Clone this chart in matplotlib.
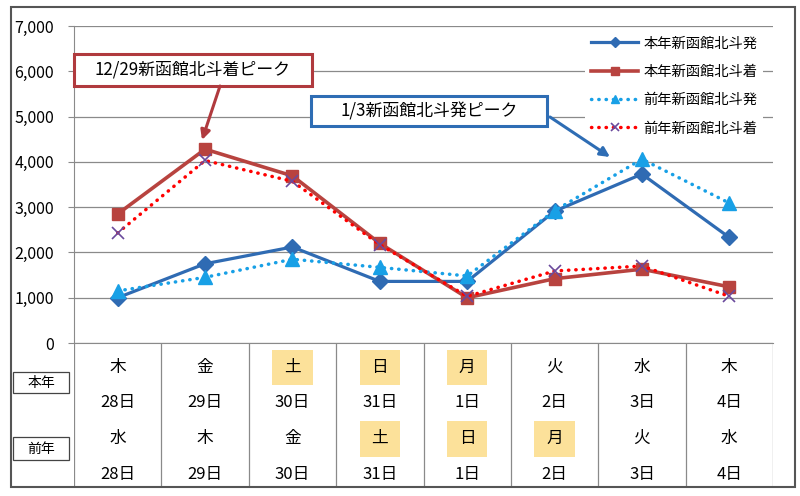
import matplotlib
matplotlib.use('Agg')
import matplotlib.pyplot as plt
from matplotlib.patches import Rectangle, FancyArrowPatch
from matplotlib.ticker import FuncFormatter

plt.rcParams['font.family'] = ['Noto Sans CJK JP', 'DejaVu Sans']

# 曜日・日付
days_this = ['木', '金', '土', '日', '月', '火', '水', '木']
days_last = ['水', '木', '金', '土', '日', '月', '火', '水']
dates = ['28日', '29日', '30日', '31日', '1日', '2日', '3日', '4日']
holiday_this = [False, False, True, True, True, False, False, False]
holiday_last = [False, False, False, True, True, True, False, False]

# 利用者数
dep_this = [1000, 1750, 2120, 1360, 1360, 2910, 3730, 2330]
arr_this = [2850, 4280, 3690, 2200, 1000, 1420, 1630, 1240]
dep_last = [1150, 1450, 1850, 1670, 1480, 2920, 4060, 3090]
arr_last = [2430, 4030, 3570, 2170, 1030, 1590, 1700, 1030]
labels = ['本年新函館北斗発', '本年新函館北斗着', '前年新函館北斗発', '前年新函館北斗着']

W, H = 800, 496


def fx(x):
    return x / W


def fy(y):
    return 1 - y / H


fig = plt.figure(figsize=(8, 4.96), dpi=100)
ax = fig.add_axes([fx(74), fy(343), fx(773) - fx(74), fy(26) - fy(343)])
tab = fig.add_axes([fx(74), fy(487), fx(773) - fx(74), fy(343) - fy(487)])

x = list(range(len(dates)))
dots = (0, (0.1, 2))
grid_c = '#8a8a8a'

ax.plot(x, dep_this, color='#2F6BB3', lw=2.3, marker='D', ms=8, label=labels[0])
ax.plot(x, arr_this, color='#B8433F', lw=2.6, marker='s', ms=9, label=labels[1])
ax.plot(x, dep_last, color='#18A0E6', lw=2.5, ls=dots, dash_capstyle='round',
        marker='^', ms=10, label=labels[2])
ax.plot(x, arr_last, color='#FF0000', lw=2.5, ls=dots, dash_capstyle='round',
        marker='x', ms=9, mec='#6A4A9C', mew=1.2, label=labels[3])

ax.set_xlim(-0.5, 7.5)
ax.set_ylim(0, 7000)
ax.set_yticks(range(0, 7001, 1000))
ax.yaxis.set_major_formatter(FuncFormatter(lambda v, p: f'{int(v):,}'))
ax.set_xticks([])
ax.grid(axis='y', color=grid_c, lw=0.9)
ax.set_axisbelow(True)
for s in ['top', 'right']:
    ax.spines[s].set_visible(False)
for s in ['left', 'bottom']:
    ax.spines[s].set_color(grid_c)
ax.tick_params(axis='y', length=4.5, color=grid_c, pad=10, labelsize=11.5)

ax.legend(loc='upper right', bbox_to_anchor=(0.986, 0.985), frameon=True,
          fancybox=False, facecolor='white', edgecolor='none', framealpha=1,
          fontsize=10.3, labelspacing=1.0, handlelength=3.35, handletextpad=0.35,
          borderaxespad=0, borderpad=0.4, markerscale=0.6)

# 表
tab.set_xlim(-0.5, 7.5)
tab.set_ylim(0, 1)
tab.axis('off')
for i in range(len(dates) + 1):
    tab.plot([i - 0.5, i - 0.5], [0, 1], color=grid_c, lw=0.9)
rows = [0.83, 0.585, 0.335, 0.09]
hl_c = '#FCE19A'
for i in x:
    if holiday_this[i]:
        tab.add_patch(Rectangle((i - 0.23, rows[0] - 0.125), 0.46, 0.245, fc=hl_c, ec='none'))
    if holiday_last[i]:
        tab.add_patch(Rectangle((i - 0.23, rows[2] - 0.125), 0.46, 0.245, fc=hl_c, ec='none'))
    tab.text(i, rows[0], days_this[i], ha='center', va='center', fontsize=12)
    tab.text(i, rows[1], dates[i], ha='center', va='center', fontsize=12)
    tab.text(i, rows[2], days_last[i], ha='center', va='center', fontsize=12)
    tab.text(i, rows[3], dates[i], ha='center', va='center', fontsize=12)

# 本年・前年ラベル
for name, y0, y1 in [('本年', 372, 393), ('前年', 437, 460)]:
    fig.add_artist(Rectangle((fx(13), fy(y1)), fx(69) - fx(13), fy(y0) - fy(y1),
                             transform=fig.transFigure, fc='white', ec='#444444', lw=0.9))
    fig.text(fx(41), fy((y0 + y1) / 2), name, ha='center', va='center', fontsize=10)

# 吹き出し
red_c = '#B03A3E'
blue_c = '#2E6DB4'
fig.add_artist(Rectangle((fx(74), fy(86)), fx(312) - fx(74), fy(54) - fy(86),
                         transform=fig.transFigure, fc='white', ec=red_c, lw=2.2, zorder=5))
fig.text(fx(193), fy(70), '12/29新函館北斗着ピーク', ha='center', va='center',
         fontsize=12.2, zorder=6)
fig.add_artist(FancyArrowPatch((fx(220), fy(86)), (fx(202), fy(140)),
                               transform=fig.transFigure, arrowstyle='-|>',
                               mutation_scale=14, lw=2.2, color=red_c,
                               shrinkA=0, shrinkB=0, zorder=5))

fig.add_artist(Rectangle((fx(311), fy(126)), fx(547) - fx(311), fy(96) - fy(126),
                         transform=fig.transFigure, fc='white', ec=blue_c, lw=2.2, zorder=5))
fig.text(fx(429), fy(111), '1/3新函館北斗発ピーク', ha='center', va='center',
         fontsize=12.2, zorder=6)
fig.add_artist(FancyArrowPatch((fx(550), fy(117)), (fx(610), fy(157)),
                               transform=fig.transFigure, arrowstyle='-|>',
                               mutation_scale=14, lw=2.2, color=blue_c,
                               shrinkA=0, shrinkB=0, zorder=5))

# 外枠
fig.add_artist(Rectangle((fx(11), fy(487)), fx(795) - fx(11), fy(7) - fy(487),
                         transform=fig.transFigure, fc='none', ec='#555555', lw=1.5, zorder=10))

fig.savefig('out.png', dpi=100)
